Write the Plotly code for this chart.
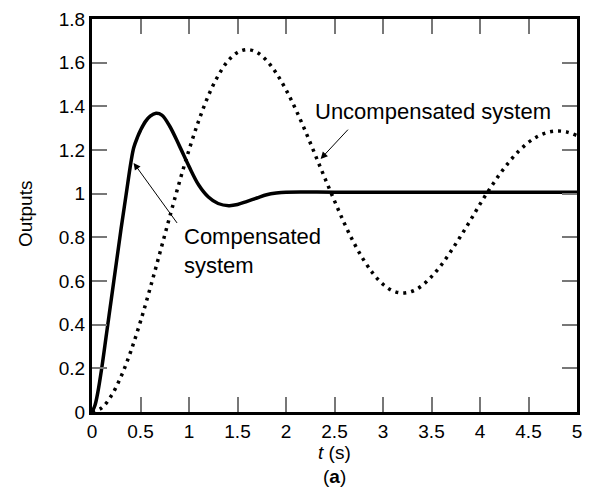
import plotly.graph_objects as go

# Compensated system response
t_comp = [0, 0.03, 0.06, 0.1, 0.15, 0.2, 0.25, 0.3, 0.35, 0.4, 0.43, 0.47, 0.5, 0.55, 0.6, 0.66,
          0.72, 0.8, 0.9, 1.0, 1.1, 1.2, 1.3, 1.41, 1.5, 1.6, 1.7, 1.8, 1.9, 2.0, 2.5, 3.0, 3.5,
          4.0, 4.5, 5.0]
y_comp = [0, 0.03, 0.09, 0.2, 0.36, 0.52, 0.68, 0.84, 0.99, 1.14, 1.21, 1.26, 1.29, 1.33, 1.355,
          1.368, 1.36, 1.31, 1.22, 1.125, 1.04, 0.985, 0.955, 0.945, 0.95, 0.965, 0.98, 0.995,
          1.003, 1.007, 1.007, 1.007, 1.007, 1.007, 1.007, 1.007]

# Uncompensated system response
t_unc = [0, 0.1, 0.2, 0.3, 0.4, 0.5, 0.6, 0.7, 0.8, 0.9, 1.0, 1.1, 1.2, 1.3, 1.4, 1.5, 1.6, 1.7,
         1.8, 1.9, 2.0, 2.1, 2.2, 2.3, 2.4, 2.5, 2.6, 2.7, 2.8, 2.9, 3.0, 3.1, 3.2, 3.3, 3.4, 3.5,
         3.6, 3.7, 3.8, 3.9, 4.0, 4.1, 4.2, 4.3, 4.4, 4.5, 4.6, 4.7, 4.8, 4.9, 5.0]
y_unc = [0, 0.019, 0.075, 0.163, 0.278, 0.415, 0.568, 0.729, 0.892, 1.051, 1.2, 1.334, 1.449,
         1.54, 1.607, 1.647, 1.66, 1.647, 1.61, 1.552, 1.476, 1.386, 1.286, 1.179, 1.072, 0.967,
         0.866, 0.775, 0.697, 0.633, 0.585, 0.555, 0.545, 0.553, 0.578, 0.62, 0.673, 0.736,
         0.805, 0.877, 0.952, 1.022, 1.087, 1.145, 1.195, 1.235, 1.264, 1.281, 1.287, 1.282, 1.266]

x_ticks = [0, 0.5, 1, 1.5, 2, 2.5, 3, 3.5, 4, 4.5, 5]
x_ticklabels = ["0", "0.5", "1", "1.5", "2", "2.5", "3", "3.5", "4", "4.5", "5"]
y_ticks = [0, 0.2, 0.4, 0.6, 0.8, 1.0, 1.2, 1.4, 1.6, 1.8]
y_ticklabels = ["0", "0.2", "0.4", "0.6", "0.8", "1", "1.2", "1.4", "1.6", "1.8"]

FONT = "Liberation Sans, Arial, Helvetica, sans-serif"

fig = go.Figure()
fig.add_trace(go.Scatter(x=t_unc, y=y_unc, mode="lines", line=dict(color="black", width=3.5, dash="3px,5px", shape="spline"),
                         showlegend=False, hoverinfo="skip"))
fig.add_trace(go.Scatter(x=t_comp, y=y_comp, mode="lines", line=dict(color="black", width=3.5, shape="spline"),
                         showlegend=False, hoverinfo="skip"))

axis_common = dict(showline=True, linecolor="black", linewidth=3, mirror="ticks", ticks="inside",
                   ticklen=15, tickwidth=1.5, tickcolor="#777", showgrid=False, zeroline=False,
                   tickfont=dict(family=FONT, size=19, color="black"))

fig.update_xaxes(range=[0, 5], tickvals=x_ticks, ticktext=x_ticklabels, **axis_common)
fig.update_yaxes(range=[0, 1.8], tickvals=y_ticks, ticktext=y_ticklabels, **axis_common)

annots = [
    dict(x=2.357, y=1.159, ax=2.653, ay=1.30, axref="x", ayref="y", xref="x", yref="y", text="",
         showarrow=True, arrowhead=2, arrowsize=1.4, arrowwidth=1, arrowcolor="black", standoff=0),
    dict(x=0.429, y=1.141, ax=0.888, ay=0.859, axref="x", ayref="y", xref="x", yref="y", text="",
         showarrow=True, arrowhead=2, arrowsize=1.4, arrowwidth=1, arrowcolor="black", standoff=0),
    dict(x=2.276, y=1.377, xref="x", yref="y", text="Uncompensated system", showarrow=False,
         xanchor="left", yanchor="middle", font=dict(family=FONT, size=22, color="black")),
    dict(x=0.929, y=0.736, xref="x", yref="y", text="Compensated<br>system", showarrow=False,
         xanchor="left", yanchor="middle", align="left", font=dict(family=FONT, size=22, color="black")),
    dict(x=0.5, y=-0.103, xref="paper", yref="paper", text="<i>t</i> (s)", showarrow=False,
         xanchor="center", yanchor="middle", borderpad=0, font=dict(family=FONT, size=19, color="black")),
    dict(x=0.5, y=-0.165, xref="paper", yref="paper", text="(<b>a</b>)", showarrow=False,
         xanchor="center", yanchor="middle", borderpad=0, font=dict(family=FONT, size=19, color="black")),
    dict(x=-0.137, y=0.505, xref="paper", yref="paper", text="Outputs", showarrow=False, textangle=-90,
         xanchor="center", yanchor="middle", font=dict(family=FONT, size=19, color="black")),
]

fig.update_layout(width=591, height=494, margin=dict(l=92, r=9, t=16, b=82),
                  plot_bgcolor="white", paper_bgcolor="white", annotations=annots)

fig.write_html("out.html", config={"displayModeBar": False},
               post_script="document.body.style.margin='0';document.body.style.overflow='hidden';")
